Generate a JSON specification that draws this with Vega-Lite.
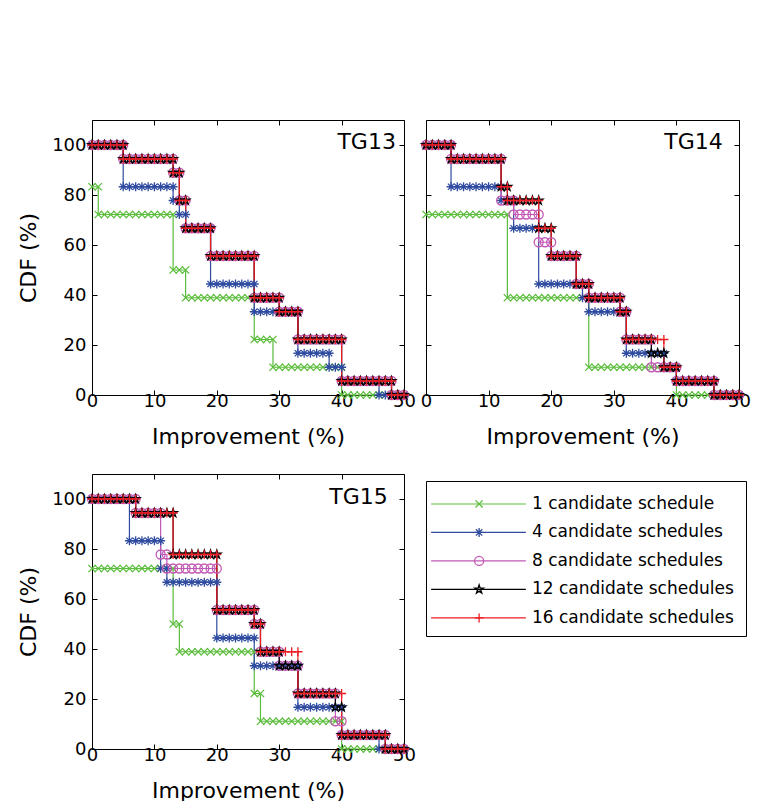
{
  "$schema": "https://vega.github.io/schema/vega-lite/v6.json",
  "padding": {"left": 17, "top": 119, "right": 5, "bottom": 5},
  "background": "white",
  "datasets": {
    "d": [
      {"p":"TG13","s":"1","y":83.3,"xs":[0,1]},
      {"p":"TG13","s":"1","y":72.2,"xs":[1,2,3,4,5,6,7,8,9,10,11,12,13]},
      {"p":"TG13","s":"1","y":50,"xs":[13,14,15]},
      {"p":"TG13","s":"1","y":38.9,"xs":[15,16,17,18,19,20,21,22,23,24,25,26]},
      {"p":"TG13","s":"1","y":22.2,"xs":[26,27,28,29]},
      {"p":"TG13","s":"1","y":11.1,"xs":[29,30,31,32,33,34,35,36,37,38,39,40]},
      {"p":"TG13","s":"1","y":0,"xs":[40,41,42,43,44,45,46,47,48,49,50]},
      {"p":"TG13","s":"4","y":100,"xs":[0,1,2,3,4,5]},
      {"p":"TG13","s":"4","y":83.3,"xs":[5,6,7,8,9,10,11,12,13]},
      {"p":"TG13","s":"4","y":77.8,"xs":[13,14]},
      {"p":"TG13","s":"4","y":72.2,"xs":[14,15]},
      {"p":"TG13","s":"4","y":66.7,"xs":[15,16,17,18,19]},
      {"p":"TG13","s":"4","y":44.4,"xs":[19,20,21,22,23,24,25,26]},
      {"p":"TG13","s":"4","y":33.3,"xs":[26,27,28,29,30,31,32,33]},
      {"p":"TG13","s":"4","y":16.7,"xs":[33,34,35,36,37,38]},
      {"p":"TG13","s":"4","y":11.1,"xs":[38,39,40]},
      {"p":"TG13","s":"4","y":5.6,"xs":[40,41,42,43,44,45,46]},
      {"p":"TG13","s":"4","y":0,"xs":[46,47,48,49,50]},
      {"p":"TG13","s":"8","y":100,"xs":[0,1,2,3,4,5]},
      {"p":"TG13","s":"8","y":94.4,"xs":[5,6,7,8,9,10,11,12,13]},
      {"p":"TG13","s":"8","y":88.9,"xs":[13,14]},
      {"p":"TG13","s":"8","y":77.8,"xs":[14,15]},
      {"p":"TG13","s":"8","y":66.7,"xs":[15,16,17,18,19]},
      {"p":"TG13","s":"8","y":55.6,"xs":[19,20,21,22,23,24,25,26]},
      {"p":"TG13","s":"8","y":38.9,"xs":[26,27,28,29,30]},
      {"p":"TG13","s":"8","y":33.3,"xs":[30,31,32,33]},
      {"p":"TG13","s":"8","y":22.2,"xs":[33,34,35,36,37,38,39,40]},
      {"p":"TG13","s":"8","y":5.6,"xs":[40,41,42,43,44,45,46,47,48]},
      {"p":"TG13","s":"8","y":0,"xs":[48,49,50]},
      {"p":"TG13","s":"12","y":100,"xs":[0,1,2,3,4,5]},
      {"p":"TG13","s":"12","y":94.4,"xs":[5,6,7,8,9,10,11,12,13]},
      {"p":"TG13","s":"12","y":88.9,"xs":[13,14]},
      {"p":"TG13","s":"12","y":77.8,"xs":[14,15]},
      {"p":"TG13","s":"12","y":66.7,"xs":[15,16,17,18,19]},
      {"p":"TG13","s":"12","y":55.6,"xs":[19,20,21,22,23,24,25,26]},
      {"p":"TG13","s":"12","y":38.9,"xs":[26,27,28,29,30]},
      {"p":"TG13","s":"12","y":33.3,"xs":[30,31,32,33]},
      {"p":"TG13","s":"12","y":22.2,"xs":[33,34,35,36,37,38,39,40]},
      {"p":"TG13","s":"12","y":5.6,"xs":[40,41,42,43,44,45,46,47,48]},
      {"p":"TG13","s":"12","y":0,"xs":[48,49,50]},
      {"p":"TG13","s":"16","y":100,"xs":[0,1,2,3,4,5]},
      {"p":"TG13","s":"16","y":94.4,"xs":[5,6,7,8,9,10,11,12,13]},
      {"p":"TG13","s":"16","y":88.9,"xs":[13,14]},
      {"p":"TG13","s":"16","y":77.8,"xs":[14,15]},
      {"p":"TG13","s":"16","y":66.7,"xs":[15,16,17,18,19]},
      {"p":"TG13","s":"16","y":55.6,"xs":[19,20,21,22,23,24,25,26]},
      {"p":"TG13","s":"16","y":38.9,"xs":[26,27,28,29,30]},
      {"p":"TG13","s":"16","y":33.3,"xs":[30,31,32,33]},
      {"p":"TG13","s":"16","y":22.2,"xs":[33,34,35,36,37,38,39,40]},
      {"p":"TG13","s":"16","y":5.6,"xs":[40,41,42,43,44,45,46,47,48]},
      {"p":"TG13","s":"16","y":0,"xs":[48,49,50]},

      {"p":"TG14","s":"1","y":72.2,"xs":[0,1,2,3,4,5,6,7,8,9,10,11,12,13]},
      {"p":"TG14","s":"1","y":38.9,"xs":[13,14,15,16,17,18,19,20,21,22,23,24,25,26]},
      {"p":"TG14","s":"1","y":11.1,"xs":[26,27,28,29,30,31,32,33,34,35,36,37,38,39,40]},
      {"p":"TG14","s":"1","y":0,"xs":[40,41,42,43,44,45,46,47,48,49,50]},
      {"p":"TG14","s":"4","y":100,"xs":[0,1,2,3,4]},
      {"p":"TG14","s":"4","y":83.3,"xs":[4,5,6,7,8,9,10,11,12]},
      {"p":"TG14","s":"4","y":77.8,"xs":[12,13,14]},
      {"p":"TG14","s":"4","y":66.7,"xs":[14,15,16,17,18]},
      {"p":"TG14","s":"4","y":44.4,"xs":[18,19,20,21,22,23,24,25]},
      {"p":"TG14","s":"4","y":38.9,"xs":[25,26]},
      {"p":"TG14","s":"4","y":33.3,"xs":[26,27,28,29,30,31,32]},
      {"p":"TG14","s":"4","y":16.7,"xs":[32,33,34,35,36,37,38]},
      {"p":"TG14","s":"4","y":11.1,"xs":[38,39,40]},
      {"p":"TG14","s":"4","y":5.6,"xs":[40,41,42,43,44,45,46]},
      {"p":"TG14","s":"4","y":0,"xs":[46,47,48,49,50]},
      {"p":"TG14","s":"8","y":100,"xs":[0,1,2,3,4]},
      {"p":"TG14","s":"8","y":94.4,"xs":[4,5,6,7,8,9,10,11,12]},
      {"p":"TG14","s":"8","y":77.8,"xs":[12,13,14]},
      {"p":"TG14","s":"8","y":72.2,"xs":[14,15,16,17,18]},
      {"p":"TG14","s":"8","y":61.1,"xs":[18,19,20]},
      {"p":"TG14","s":"8","y":55.6,"xs":[20,21,22,23,24]},
      {"p":"TG14","s":"8","y":44.4,"xs":[24,25,26]},
      {"p":"TG14","s":"8","y":38.9,"xs":[26,27,28,29,30,31]},
      {"p":"TG14","s":"8","y":33.3,"xs":[31,32]},
      {"p":"TG14","s":"8","y":22.2,"xs":[32,33,34,35,36]},
      {"p":"TG14","s":"8","y":11.1,"xs":[36,37,38,39,40]},
      {"p":"TG14","s":"8","y":5.6,"xs":[40,41,42,43,44,45,46]},
      {"p":"TG14","s":"8","y":0,"xs":[46,47,48,49,50]},
      {"p":"TG14","s":"12","y":100,"xs":[0,1,2,3,4]},
      {"p":"TG14","s":"12","y":94.4,"xs":[4,5,6,7,8,9,10,11,12]},
      {"p":"TG14","s":"12","y":83.3,"xs":[12,13]},
      {"p":"TG14","s":"12","y":77.8,"xs":[13,14,15,16,17,18]},
      {"p":"TG14","s":"12","y":66.7,"xs":[18,19,20]},
      {"p":"TG14","s":"12","y":55.6,"xs":[20,21,22,23,24]},
      {"p":"TG14","s":"12","y":44.4,"xs":[24,25,26]},
      {"p":"TG14","s":"12","y":38.9,"xs":[26,27,28,29,30,31]},
      {"p":"TG14","s":"12","y":33.3,"xs":[31,32]},
      {"p":"TG14","s":"12","y":22.2,"xs":[32,33,34,35,36]},
      {"p":"TG14","s":"12","y":16.7,"xs":[36,37,38]},
      {"p":"TG14","s":"12","y":11.1,"xs":[38,39,40]},
      {"p":"TG14","s":"12","y":5.6,"xs":[40,41,42,43,44,45,46]},
      {"p":"TG14","s":"12","y":0,"xs":[46,47,48,49,50]},
      {"p":"TG14","s":"16","y":100,"xs":[0,1,2,3,4]},
      {"p":"TG14","s":"16","y":94.4,"xs":[4,5,6,7,8,9,10,11,12]},
      {"p":"TG14","s":"16","y":83.3,"xs":[12,13]},
      {"p":"TG14","s":"16","y":77.8,"xs":[13,14,15,16,17,18]},
      {"p":"TG14","s":"16","y":66.7,"xs":[18,19,20]},
      {"p":"TG14","s":"16","y":55.6,"xs":[20,21,22,23,24]},
      {"p":"TG14","s":"16","y":44.4,"xs":[24,25,26]},
      {"p":"TG14","s":"16","y":38.9,"xs":[26,27,28,29,30,31]},
      {"p":"TG14","s":"16","y":33.3,"xs":[31,32]},
      {"p":"TG14","s":"16","y":22.2,"xs":[32,33,34,35,36,37,38]},
      {"p":"TG14","s":"16","y":11.1,"xs":[38,39,40]},
      {"p":"TG14","s":"16","y":5.6,"xs":[40,41,42,43,44,45,46]},
      {"p":"TG14","s":"16","y":0,"xs":[46,47,48,49,50]},

      {"p":"TG15","s":"1","y":72.2,"xs":[0,1,2,3,4,5,6,7,8,9,10,11,12,13]},
      {"p":"TG15","s":"1","y":50,"xs":[13,14]},
      {"p":"TG15","s":"1","y":38.9,"xs":[14,15,16,17,18,19,20,21,22,23,24,25,26]},
      {"p":"TG15","s":"1","y":22.2,"xs":[26,27]},
      {"p":"TG15","s":"1","y":11.1,"xs":[27,28,29,30,31,32,33,34,35,36,37,38,39,40]},
      {"p":"TG15","s":"1","y":0,"xs":[40,41,42,43,44,45,46,47,48,49,50]},
      {"p":"TG15","s":"4","y":100,"xs":[0,1,2,3,4,5,6]},
      {"p":"TG15","s":"4","y":83.3,"xs":[6,7,8,9,10,11]},
      {"p":"TG15","s":"4","y":72.2,"xs":[11,12]},
      {"p":"TG15","s":"4","y":66.7,"xs":[12,13,14,15,16,17,18,19,20]},
      {"p":"TG15","s":"4","y":44.4,"xs":[20,21,22,23,24,25,26]},
      {"p":"TG15","s":"4","y":33.3,"xs":[26,27,28,29,30,31,32,33]},
      {"p":"TG15","s":"4","y":16.7,"xs":[33,34,35,36,37,38,39,40]},
      {"p":"TG15","s":"4","y":5.6,"xs":[40,41,42,43,44,45,46]},
      {"p":"TG15","s":"4","y":0,"xs":[46,47,48,49,50]},
      {"p":"TG15","s":"8","y":100,"xs":[0,1,2,3,4,5,6,7]},
      {"p":"TG15","s":"8","y":94.4,"xs":[7,8,9,10,11]},
      {"p":"TG15","s":"8","y":77.8,"xs":[11,12]},
      {"p":"TG15","s":"8","y":72.2,"xs":[12,13,14,15,16,17,18,19,20]},
      {"p":"TG15","s":"8","y":55.6,"xs":[20,21,22,23,24,25,26]},
      {"p":"TG15","s":"8","y":50,"xs":[26,27]},
      {"p":"TG15","s":"8","y":38.9,"xs":[27,28,29,30]},
      {"p":"TG15","s":"8","y":33.3,"xs":[30,31,32,33]},
      {"p":"TG15","s":"8","y":22.2,"xs":[33,34,35,36,37,38,39]},
      {"p":"TG15","s":"8","y":11.1,"xs":[39,40]},
      {"p":"TG15","s":"8","y":5.6,"xs":[40,41,42,43,44,45,46,47]},
      {"p":"TG15","s":"8","y":0,"xs":[47,48,49,50]},
      {"p":"TG15","s":"12","y":100,"xs":[0,1,2,3,4,5,6,7]},
      {"p":"TG15","s":"12","y":94.4,"xs":[7,8,9,10,11,12,13]},
      {"p":"TG15","s":"12","y":77.8,"xs":[13,14,15,16,17,18,19,20]},
      {"p":"TG15","s":"12","y":55.6,"xs":[20,21,22,23,24,25,26]},
      {"p":"TG15","s":"12","y":50,"xs":[26,27]},
      {"p":"TG15","s":"12","y":38.9,"xs":[27,28,29,30]},
      {"p":"TG15","s":"12","y":33.3,"xs":[30,31,32,33]},
      {"p":"TG15","s":"12","y":22.2,"xs":[33,34,35,36,37,38,39]},
      {"p":"TG15","s":"12","y":16.7,"xs":[39,40]},
      {"p":"TG15","s":"12","y":5.6,"xs":[40,41,42,43,44,45,46,47]},
      {"p":"TG15","s":"12","y":0,"xs":[47,48,49,50]},
      {"p":"TG15","s":"16","y":100,"xs":[0,1,2,3,4,5,6,7]},
      {"p":"TG15","s":"16","y":94.4,"xs":[7,8,9,10,11,12,13]},
      {"p":"TG15","s":"16","y":77.8,"xs":[13,14,15,16,17,18,19,20]},
      {"p":"TG15","s":"16","y":55.6,"xs":[20,21,22,23,24,25,26]},
      {"p":"TG15","s":"16","y":50,"xs":[26,27]},
      {"p":"TG15","s":"16","y":38.9,"xs":[27,28,29,30,31,32,33]},
      {"p":"TG15","s":"16","y":22.2,"xs":[33,34,35,36,37,38,39,40]},
      {"p":"TG15","s":"16","y":5.6,"xs":[40,41,42,43,44,45,46,47]},
      {"p":"TG15","s":"16","y":0,"xs":[47,48,49,50]}
    ],
    "leg": [
      {"s":"1","label":"1 candidate schedule"},
      {"s":"4","label":"4 candidate schedules"},
      {"s":"8","label":"8 candidate schedules"},
      {"s":"12","label":"12 candidate schedules"},
      {"s":"16","label":"16 candidate schedules"}
    ]
  },
  "hconcat": [
    {
      "bounds": "flush",
      "spacing": 79,
      "vconcat": [
        {
          "width": 312, "height": 275,
          "resolve": {"axis": {"x": "independent", "y": "independent"}},
          "layer": [
            {
              "data": {"name": "d"},
              "transform": [{"filter": "datum.p === 'TG13'"}, {"flatten": ["xs"], "as": ["x"]}],
              "mark": {"type": "line", "strokeWidth": 1.2, "clip": false},
              "encoding": {
                "x": {"field": "x", "type": "quantitative", "scale": {"domain": [0, 50], "nice": false, "zero": false}, "axis": {"orient": "bottom", "values": [0, 10, 20, 30, 40, 50], "title": "Improvement (%)"}},
                "y": {"field": "y", "type": "quantitative", "scale": {"domain": [0, 110], "nice": false}, "axis": {"orient": "left", "values": [0, 20, 40, 60, 80, 100], "title": "CDF (%)"}},
                "color": {"field": "s", "type": "nominal", "scale": {"domain": ["1", "4", "8", "12", "16"], "range": ["#5BBD3C", "#2E4BA0", "#C258B5", "#000000", "#EB1C24"]}, "legend": null},
                "order": [{"field": "x", "type": "quantitative"}, {"field": "y", "type": "quantitative", "sort": "descending"}]
              }
            },
            {
              "data": {"name": "d"},
              "transform": [{"filter": "datum.p === 'TG13'"}, {"flatten": ["xs"], "as": ["x"]}],
              "mark": {"type": "point", "filled": false, "size": 81, "strokeWidth": 1.3, "opacity": 1},
              "encoding": {
                "x": {"field": "x", "type": "quantitative", "axis": {"orient": "top", "values": [0, 10, 20, 30, 40, 50], "labels": false, "title": null}},
                "y": {"field": "y", "type": "quantitative", "axis": {"orient": "right", "values": [0, 20, 40, 60, 80, 100], "labels": false, "title": null}},
                "color": {"field": "s", "type": "nominal", "legend": null},
                "shape": {"field": "s", "type": "nominal", "scale": {"domain": ["1", "4", "8", "12", "16"], "range": ["M-0.8,-0.8L0.8,0.8M-0.8,0.8L0.8,-0.8", "M-1,0H1M0,-1V1M-0.7,-0.7L0.7,0.7M-0.7,0.7L0.7,-0.7", "circle", "M0,-1L0.225,-0.309L0.951,-0.309L0.363,0.118L0.588,0.809L0,0.382L-0.588,0.809L-0.363,0.118L-0.951,-0.309L-0.225,-0.309Z", "M-1,0H1M0,-1V1"]}, "legend": null}
              }
            },
            {
              "data": {"values": [{"t": "TG13"}]},
              "mark": {"type": "text", "align": "right", "baseline": "alphabetic", "fontSize": 22, "color": "black"},
              "encoding": {
                "x": {"datum": 48.7, "type": "quantitative", "axis": null},
                "y": {"datum": 98.4, "type": "quantitative", "axis": null},
                "text": {"field": "t"}
              }
            }
          ]
        },
        {
          "width": 312, "height": 275,
          "resolve": {"axis": {"x": "independent", "y": "independent"}},
          "layer": [
            {
              "data": {"name": "d"},
              "transform": [{"filter": "datum.p === 'TG15'"}, {"flatten": ["xs"], "as": ["x"]}],
              "mark": {"type": "line", "strokeWidth": 1.2, "clip": false},
              "encoding": {
                "x": {"field": "x", "type": "quantitative", "scale": {"domain": [0, 50], "nice": false, "zero": false}, "axis": {"orient": "bottom", "values": [0, 10, 20, 30, 40, 50], "title": "Improvement (%)"}},
                "y": {"field": "y", "type": "quantitative", "scale": {"domain": [0, 110], "nice": false}, "axis": {"orient": "left", "values": [0, 20, 40, 60, 80, 100], "title": "CDF (%)"}},
                "color": {"field": "s", "type": "nominal", "scale": {"domain": ["1", "4", "8", "12", "16"], "range": ["#5BBD3C", "#2E4BA0", "#C258B5", "#000000", "#EB1C24"]}, "legend": null},
                "order": [{"field": "x", "type": "quantitative"}, {"field": "y", "type": "quantitative", "sort": "descending"}]
              }
            },
            {
              "data": {"name": "d"},
              "transform": [{"filter": "datum.p === 'TG15'"}, {"flatten": ["xs"], "as": ["x"]}],
              "mark": {"type": "point", "filled": false, "size": 81, "strokeWidth": 1.3, "opacity": 1},
              "encoding": {
                "x": {"field": "x", "type": "quantitative", "axis": {"orient": "top", "values": [0, 10, 20, 30, 40, 50], "labels": false, "title": null}},
                "y": {"field": "y", "type": "quantitative", "axis": {"orient": "right", "values": [0, 20, 40, 60, 80, 100], "labels": false, "title": null}},
                "color": {"field": "s", "type": "nominal", "legend": null},
                "shape": {"field": "s", "type": "nominal", "scale": {"domain": ["1", "4", "8", "12", "16"], "range": ["M-0.8,-0.8L0.8,0.8M-0.8,0.8L0.8,-0.8", "M-1,0H1M0,-1V1M-0.7,-0.7L0.7,0.7M-0.7,0.7L0.7,-0.7", "circle", "M0,-1L0.225,-0.309L0.951,-0.309L0.363,0.118L0.588,0.809L0,0.382L-0.588,0.809L-0.363,0.118L-0.951,-0.309L-0.225,-0.309Z", "M-1,0H1M0,-1V1"]}, "legend": null}
              }
            },
            {
              "data": {"values": [{"t": "TG15"}]},
              "mark": {"type": "text", "align": "right", "baseline": "alphabetic", "fontSize": 22, "color": "black"},
              "encoding": {
                "x": {"datum": 47.4, "type": "quantitative", "axis": null},
                "y": {"datum": 98, "type": "quantitative", "axis": null},
                "text": {"field": "t"}
              }
            }
          ]
        }
      ]
    },
    {
      "bounds": "flush",
      "spacing": 86,
      "vconcat": [
        {
          "width": 313, "height": 275,
          "resolve": {"axis": {"x": "independent", "y": "independent"}},
          "layer": [
            {
              "data": {"name": "d"},
              "transform": [{"filter": "datum.p === 'TG14'"}, {"flatten": ["xs"], "as": ["x"]}],
              "mark": {"type": "line", "strokeWidth": 1.2, "clip": false},
              "encoding": {
                "x": {"field": "x", "type": "quantitative", "scale": {"domain": [0, 50], "nice": false, "zero": false}, "axis": {"orient": "bottom", "values": [0, 10, 20, 30, 40, 50], "title": "Improvement (%)"}},
                "y": {"field": "y", "type": "quantitative", "scale": {"domain": [0, 110], "nice": false}, "axis": {"orient": "left", "values": [0, 20, 40, 60, 80, 100], "labels": false, "title": null}},
                "color": {"field": "s", "type": "nominal", "scale": {"domain": ["1", "4", "8", "12", "16"], "range": ["#5BBD3C", "#2E4BA0", "#C258B5", "#000000", "#EB1C24"]}, "legend": null},
                "order": [{"field": "x", "type": "quantitative"}, {"field": "y", "type": "quantitative", "sort": "descending"}]
              }
            },
            {
              "data": {"name": "d"},
              "transform": [{"filter": "datum.p === 'TG14'"}, {"flatten": ["xs"], "as": ["x"]}],
              "mark": {"type": "point", "filled": false, "size": 81, "strokeWidth": 1.3, "opacity": 1},
              "encoding": {
                "x": {"field": "x", "type": "quantitative", "axis": {"orient": "top", "values": [0, 10, 20, 30, 40, 50], "labels": false, "title": null}},
                "y": {"field": "y", "type": "quantitative", "axis": {"orient": "right", "values": [0, 20, 40, 60, 80, 100], "labels": false, "title": null}},
                "color": {"field": "s", "type": "nominal", "legend": null},
                "shape": {"field": "s", "type": "nominal", "scale": {"domain": ["1", "4", "8", "12", "16"], "range": ["M-0.8,-0.8L0.8,0.8M-0.8,0.8L0.8,-0.8", "M-1,0H1M0,-1V1M-0.7,-0.7L0.7,0.7M-0.7,0.7L0.7,-0.7", "circle", "M0,-1L0.225,-0.309L0.951,-0.309L0.363,0.118L0.588,0.809L0,0.382L-0.588,0.809L-0.363,0.118L-0.951,-0.309L-0.225,-0.309Z", "M-1,0H1M0,-1V1"]}, "legend": null}
              }
            },
            {
              "data": {"values": [{"t": "TG14"}]},
              "mark": {"type": "text", "align": "right", "baseline": "alphabetic", "fontSize": 22, "color": "black"},
              "encoding": {
                "x": {"datum": 47.4, "type": "quantitative", "axis": null},
                "y": {"datum": 98.4, "type": "quantitative", "axis": null},
                "text": {"field": "t"}
              }
            }
          ]
        },
        {
          "width": 320, "height": 155,
          "data": {"name": "leg"},
          "layer": [
            {
              "mark": {"type": "rule", "strokeWidth": 1.2},
              "encoding": {
                "x": {"datum": 0.16, "type": "quantitative", "scale": {"domain": [0, 10], "nice": false, "zero": false}, "axis": null},
                "x2": {"datum": 3.12},
                "y": {"field": "s", "type": "nominal", "scale": {"type": "point", "domain": ["1", "4", "8", "12", "16"], "padding": 0.72, "align": 0.56}, "axis": null},
                "color": {"field": "s", "type": "nominal", "scale": {"domain": ["1", "4", "8", "12", "16"], "range": ["#5BBD3C", "#2E4BA0", "#C258B5", "#000000", "#EB1C24"]}, "legend": null}
              }
            },
            {
              "mark": {"type": "point", "filled": false, "size": 81, "strokeWidth": 1.3, "opacity": 1},
              "encoding": {
                "x": {"datum": 1.66, "type": "quantitative"},
                "y": {"field": "s", "type": "nominal"},
                "color": {"field": "s", "type": "nominal", "legend": null},
                "shape": {"field": "s", "type": "nominal", "scale": {"domain": ["1", "4", "8", "12", "16"], "range": ["M-0.8,-0.8L0.8,0.8M-0.8,0.8L0.8,-0.8", "M-1,0H1M0,-1V1M-0.7,-0.7L0.7,0.7M-0.7,0.7L0.7,-0.7", "circle", "M0,-1L0.225,-0.309L0.951,-0.309L0.363,0.118L0.588,0.809L0,0.382L-0.588,0.809L-0.363,0.118L-0.951,-0.309L-0.225,-0.309Z", "M-1,0H1M0,-1V1"]}, "legend": null}
              }
            },
            {
              "mark": {"type": "text", "align": "left", "baseline": "middle", "fontSize": 17, "color": "black"},
              "encoding": {
                "x": {"datum": 3.31, "type": "quantitative"},
                "y": {"field": "s", "type": "nominal"},
                "text": {"field": "label"}
              }
            }
          ]
        }
      ]
    }
  ],
  "spacing": 2,
  "config": {
    "font": "DejaVu Sans",
    "view": {"stroke": "black", "strokeWidth": 1},
    "axis": {
      "domain": false, "grid": false,
      "ticks": true, "tickColor": "black", "tickSize": -5, "tickWidth": 1,
      "labelColor": "black", "labelFont": "DejaVu Sans", "labelFontSize": 18, "labelFlush": false,
      "titleColor": "black", "titleFont": "DejaVu Sans", "titleFontSize": 22, "titleFontWeight": "normal"
    },
    "axisX": {"labelPadding": 2, "titlePadding": 16},
    "axisY": {"labelPadding": 11, "titlePadding": 11},
    "text": {"font": "DejaVu Sans"}
  }
}
